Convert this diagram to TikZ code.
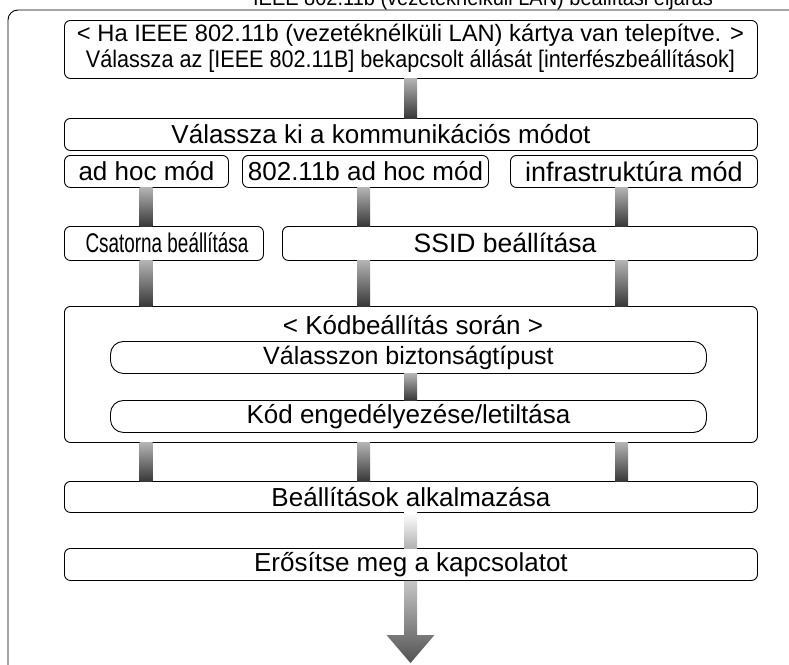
\documentclass[tikz,border=0pt]{standalone}
\usepackage{fontspec}
\setmainfont{Liberation Sans}
\newfontfamily\fN{Liberation Sans}
\newfontfamily\fA[FakeStretch=0.90]{Liberation Sans}
\newfontfamily\fT[FakeStretch=0.93]{Liberation Sans}
\newfontfamily\fB[FakeStretch=0.70]{Liberation Sans}
\usetikzlibrary{calc}
\tikzset{
  box/.style={draw=black, line width=0.9pt, rounded corners=6pt, fill=white,
    anchor=north west, inner sep=0pt, font=\fN\fontsize{26}{30}\selectfont},
  pill/.style={box, rounded corners=13pt},
  txt/.style={inner sep=0pt, font=\fN\fontsize{26}{30}\selectfont},
  bar/.style={top color=gray!60, bottom color=black!78, draw=none},
  lightbar/.style={top color=white, bottom color=gray!60, draw=none},
  arrowshade/.style={top color=gray!45, bottom color=black!68, draw=none}
}
\begin{document}
\begin{tikzpicture}[x=1pt,y=-1pt]
\useasboundingbox (0,0) rectangle (789,664);
\clip (0,0) rectangle (789,664);
\fill[white] (0,0) rectangle (789,664);
% outer frame
\draw[line width=0.9pt, rounded corners=10pt] (8,700) |- (820,10);
\node[anchor=base, inner sep=0pt, font=\fT\fontsize{21.5}{26}\selectfont] (title) at (483,5) {IEEE 802.11b (vezetéknélküli LAN) beállítási eljárás};
% column coordinates
\coordinate (cm) at (410.5,0);
\coordinate (c1) at (146,0);
\coordinate (c2) at (363.5,0);
\coordinate (c3) at (621.5,0);
% nodes
\node[box, minimum width=693, minimum height=58] (top) at (64,20) {};
\node[txt, font=\fN\fontsize{23.7}{28}\selectfont] (t1) at (410.5,35.5) {< Ha IEEE 802.11b (vezetéknélküli LAN) kártya van telepítve. >};
\node[txt, font=\fA\fontsize{24}{28}\selectfont] (t2) at (410.5,61) {Válassza az [IEEE 802.11B] bekapcsolt állását [interfészbeállítások]};
\node[box, minimum width=693, minimum height=32] (sel) at (64,118) {};
\node[txt] (selt) at (381,134) {Válassza ki a kommunikációs módot};
\node[box, minimum width=164, minimum height=32] (adhoc) at (64,155) {ad hoc mód};
\node[box, minimum width=246, minimum height=32] (b802) at (242,155) {802.11b ad hoc mód};
\node[box, minimum width=247, minimum height=32, font=\fN\fontsize{27}{30}\selectfont] (infra) at (510,155) {infrastruktúra mód};
\node[box, minimum width=199, minimum height=34] (csat) at (64,226) {};
\node[txt, font=\fB\fontsize{27}{30}\selectfont] (csatt) at (167,243) {Csatorna beállítása};
\node[box, minimum width=475, minimum height=34] (ssid) at (282,226) {};
\node[txt, font=\fN\fontsize{26.5}{30}\selectfont] (ssidt) at (505,243) {SSID beállítása};
\node[box, minimum width=693, minimum height=136] (kod) at (64,306) {};
\node[txt] (kt) at (413,325) {< Kódbeállítás során >};
\node[pill, minimum width=596, minimum height=32, font=\fN\fontsize{25}{30}\selectfont] (bizt) at (110,341) {Válasszon biztonságtípust};
\node[pill, minimum width=596, minimum height=32] (eng) at (110,400) {Kód engedélyezése/letiltása};
\node[box, minimum width=693, minimum height=31] (beal) at (64,481) {Beállítások alkalmazása};
\node[box, minimum width=693, minimum height=32] (eros) at (64,548) {Erősítse meg a kapcsolatot};
% connectors
\shade[bar] ([xshift=-6.5pt]cm |- top.south) rectangle ([xshift=6.5pt]cm |- sel.north);
\foreach \c/\a/\b in {c1/adhoc/csat, c2/b802/ssid, c3/infra/ssid}{
  \shade[bar] ([xshift=-6.5pt]\c |- \a.south) rectangle ([xshift=6.5pt]\c |- \b.north);
}
\foreach \c/\a in {c1/csat, c2/ssid, c3/ssid}{
  \shade[bar] ([xshift=-6.5pt]\c |- \a.south) rectangle ([xshift=6.5pt]\c |- kod.north);
  \shade[bar] ([xshift=-6.5pt]\c |- kod.south) rectangle ([xshift=6.5pt]\c |- beal.north);
}
\shade[bar] ([xshift=-6.5pt]cm |- bizt.south) rectangle ([xshift=6.5pt]cm |- eng.north);
\shade[lightbar] ([xshift=-6.5pt]cm |- beal.south) rectangle ([xshift=6.5pt]cm |- eros.north);
\coordinate (tip) at (410.5,663);
\shade[arrowshade] ([xshift=-6.5pt]cm |- eros.south) -- ([xshift=-6.5pt,yshift=28pt]tip) -- ([xshift=-24pt,yshift=28pt]tip) -- (tip) -- ([xshift=24pt,yshift=28pt]tip) -- ([xshift=6.5pt,yshift=28pt]tip) -- ([xshift=6.5pt]cm |- eros.south) -- cycle;
\end{tikzpicture}
\end{document}
